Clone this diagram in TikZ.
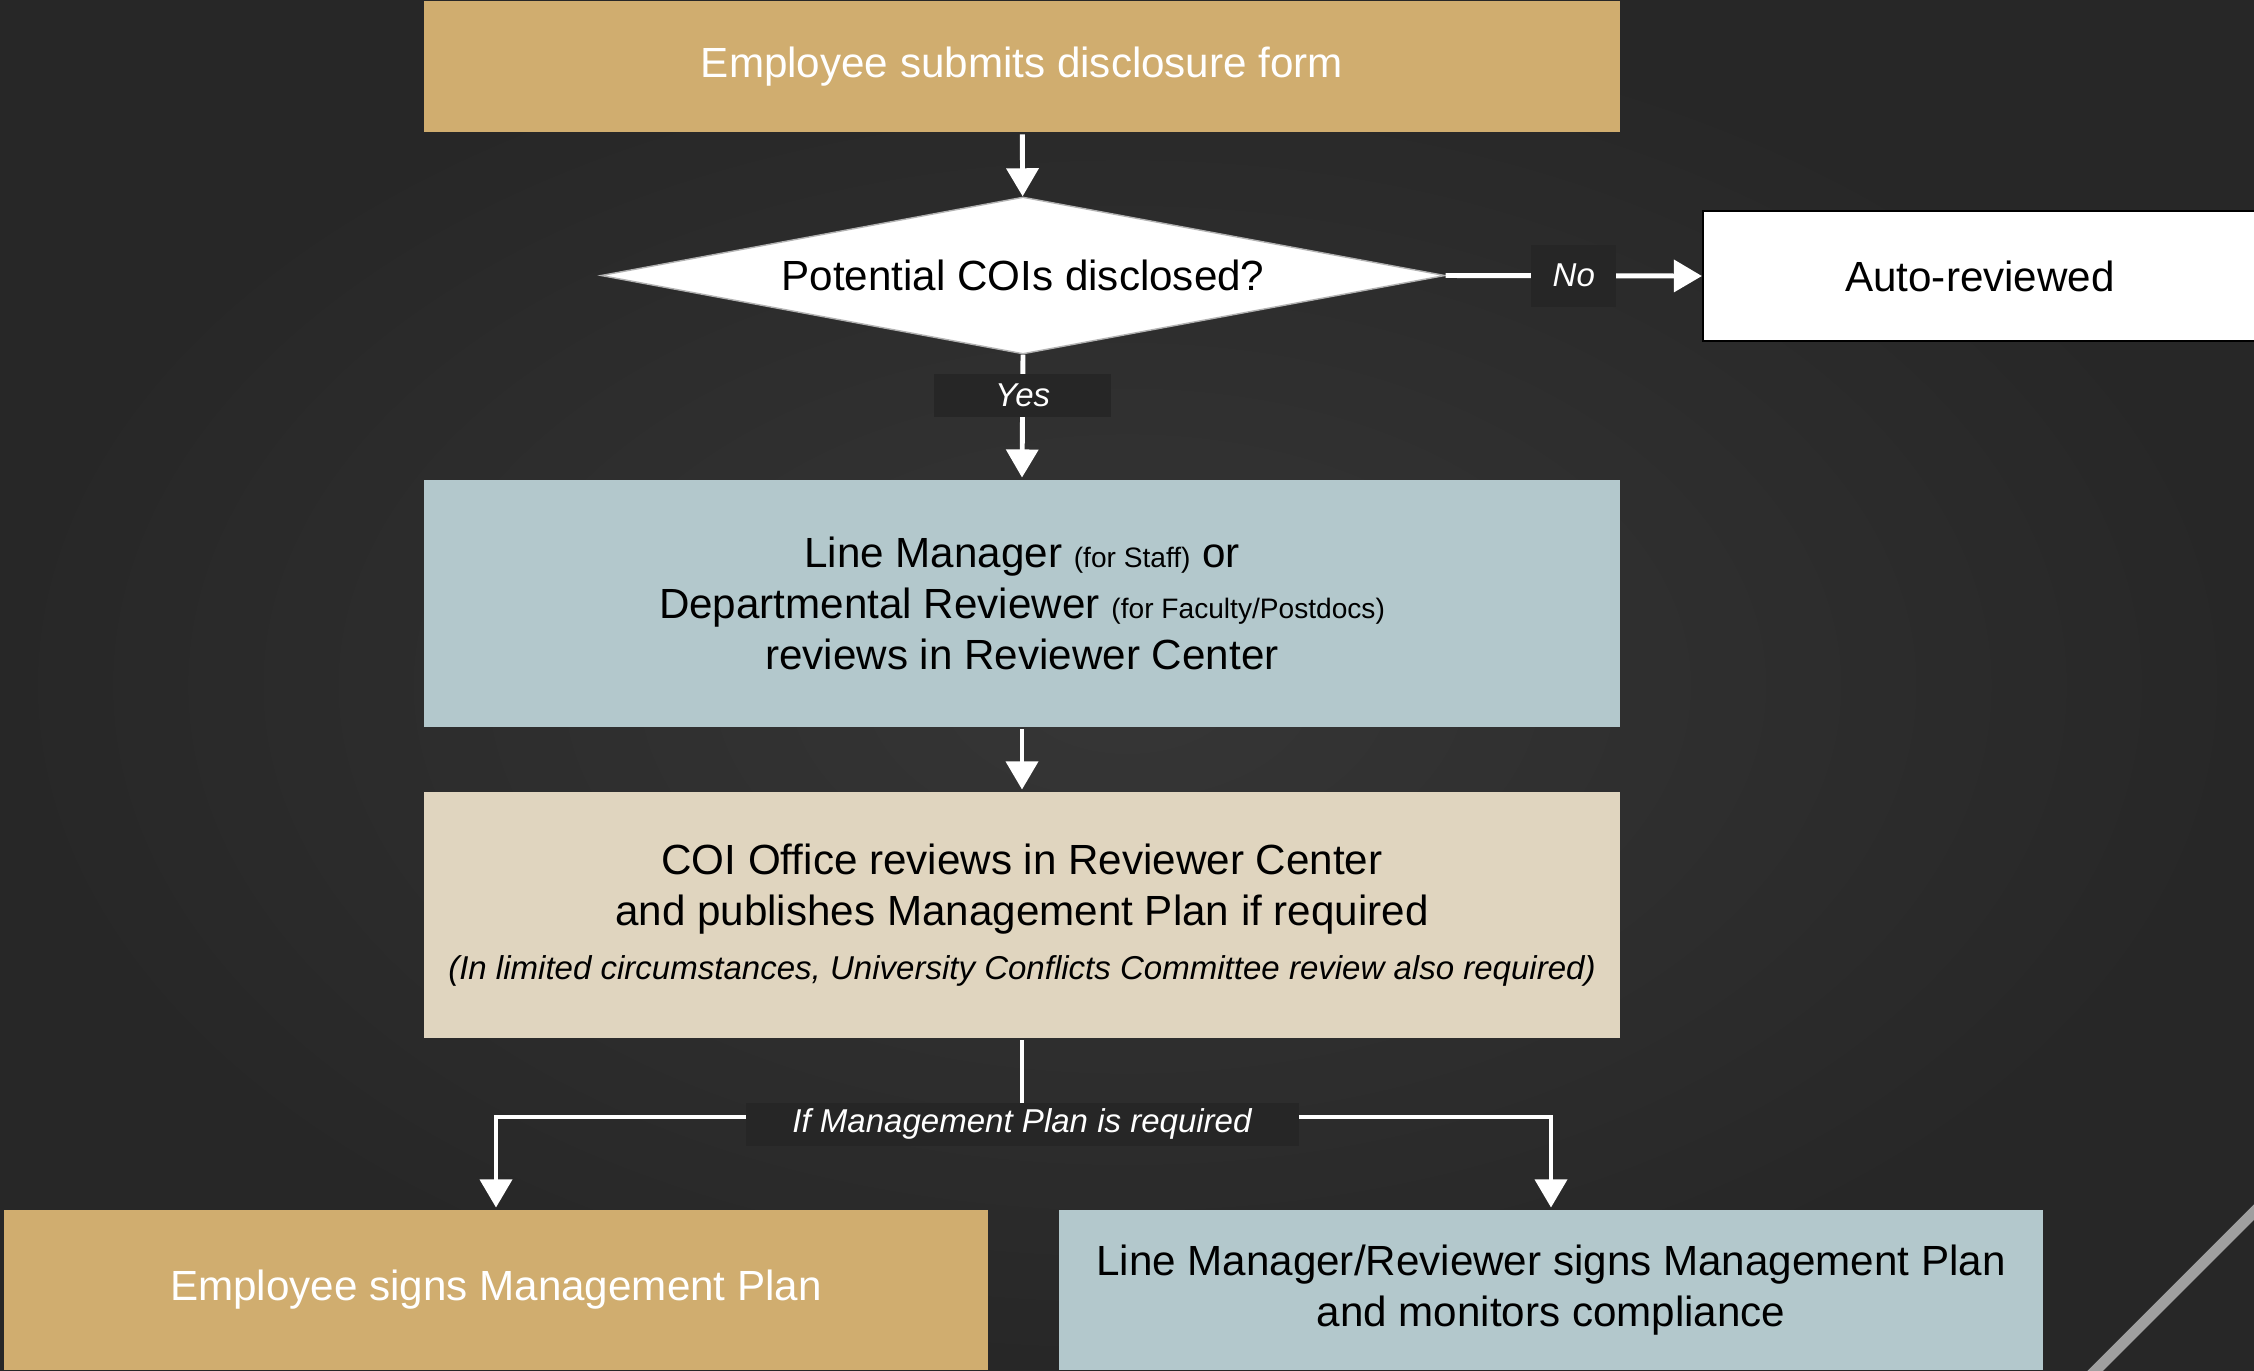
\documentclass[tikz,border=0pt]{standalone}
\usepackage{fontspec}
\setmainfont{Liberation Sans}
\usepackage{tikz}
\usetikzlibrary{arrows.meta,shapes.geometric}

\definecolor{bgdark}{HTML}{272727}
\definecolor{bglight}{HTML}{363636}
\definecolor{gold}{HTML}{D0AD6F}
\definecolor{slate}{HTML}{B3C8CC}
\definecolor{sand}{HTML}{E0D5BF}
\definecolor{tagbg}{HTML}{262626}

\begin{document}
\begin{tikzpicture}[line width=1.4pt,
  box/.style={rectangle,inner sep=0pt,align=center,minimum width=11.96cm,font=\fontsize{12}{14.4}\selectfont},
  tag/.style={fill=tagbg,text=white,inner sep=0pt,font=\fontsize{9.4}{11}\selectfont\itshape},
  arr/.style={draw=white,-{Triangle[width=9pt,length=8pt]}}]

\useasboundingbox (0,0) rectangle (22.54,-13.70);
\shade [inner color=bglight,outer color=bgdark] (0,0) rectangle (22.54,-13.70);

\node [box,fill=gold,text=white,minimum height=1.31cm] (submit) at (10.22,-0.665) {Employee submits disclosure form};
\node [diamond,fill=white,draw=gray!60,line width=0.4pt,inner sep=0pt,aspect=5.4,minimum width=8.44cm,minimum height=1.57cm,font=\fontsize{12}{14.4}\selectfont] (coi) at (10.23,-2.755) {Potential COIs disclosed?};
\node [box,fill=white,draw=black,line width=0.6pt,minimum width=5.54cm,minimum height=1.30cm] (auto) at (19.80,-2.76) {Auto-reviewed};
\node [box,fill=slate,minimum height=2.47cm] (line) at (10.22,-6.035) {Line Manager {\fontsize{8}{9.6}\selectfont(for Staff)} or\\Departmental Reviewer {\fontsize{8}{9.6}\selectfont(for Faculty/Postdocs)}\\reviews in Reviewer Center};
\node [box,fill=sand,minimum height=2.46cm] (office) at (10.22,-9.15) {COI Office reviews in Reviewer Center\\and publishes Management Plan if required\\[1pt]{\fontsize{9.4}{11.3}\selectfont\itshape(In limited circumstances, University Conflicts Committee review also required)}};
\node [box,fill=gold,text=white,minimum width=9.84cm,minimum height=1.6cm] (signs) at (4.96,-12.90) {Employee signs Management Plan};
\node [box,fill=slate,minimum width=9.84cm,minimum height=1.6cm] (monitor) at (15.51,-12.90) {Line Manager/Reviewer signs Management Plan\\and monitors compliance};

\draw [arr] (submit) -- (coi);
\draw [arr] (coi.east) -- node [tag,minimum width=0.85cm,minimum height=0.62cm] {No} (auto.west);
\draw [arr] (coi.south) -- node [tag,pos=0.33,minimum width=1.77cm,minimum height=0.43cm] {Yes} (line.north);
\draw [arr] (line) -- (office);

\coordinate (split) at (10.22,-11.17);
\draw [white] (office.south) -- (split);
\draw [arr] (split) -| (signs.north);
\draw [arr] (split) -| (monitor.north);
\node [tag,minimum width=5.53cm,minimum height=0.43cm] at (10.22,-11.24) {If Management Plan is required};

\draw [line width=0.11cm,color=gray!75] (20.9,-13.76) -- (22.6,-12.06);

\end{tikzpicture}
\end{document}
